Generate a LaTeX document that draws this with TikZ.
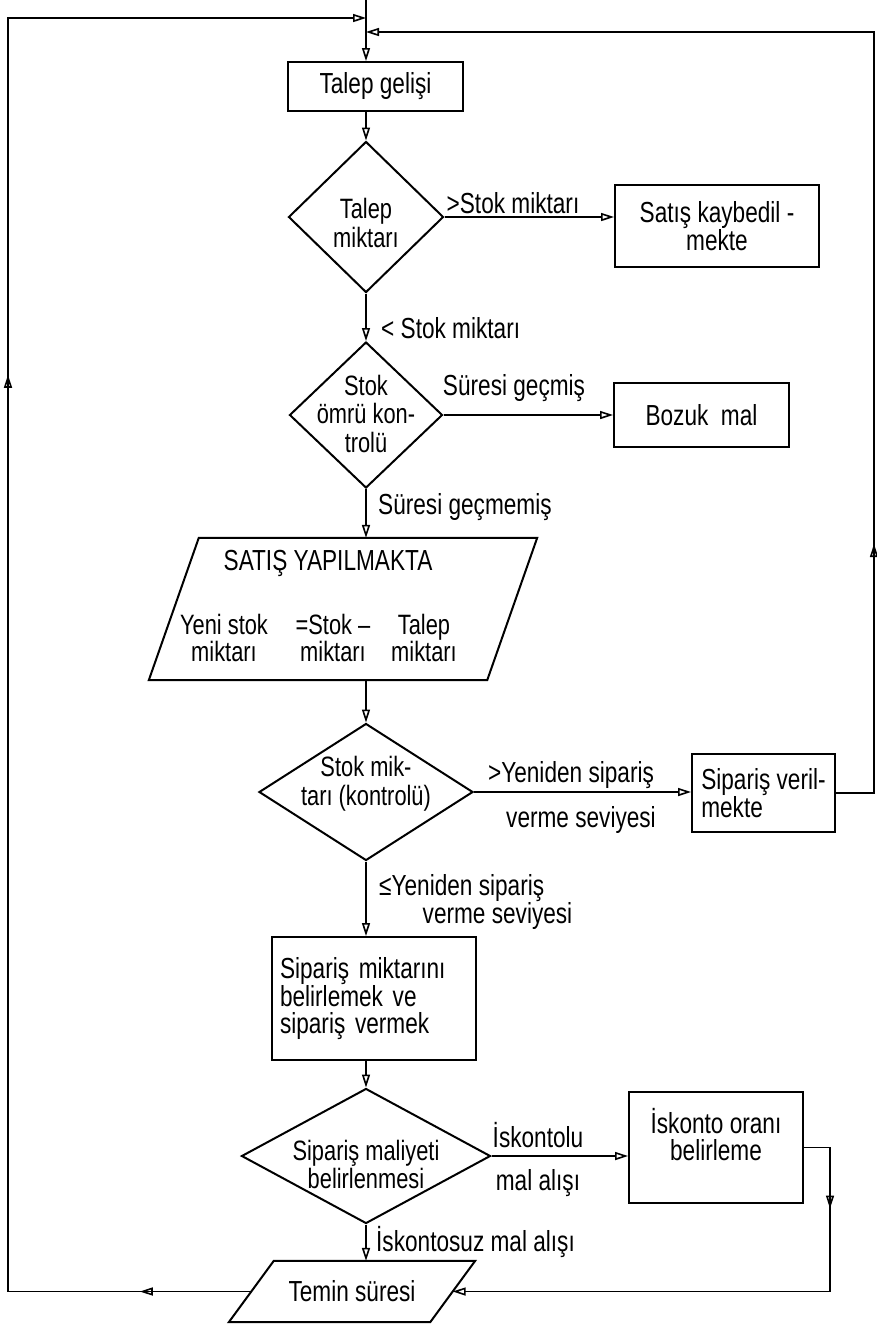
\documentclass[tikz,border=0pt]{standalone}
\usepackage{fontspec}
\setmainfont{Liberation Sans}[FakeStretch=0.78]
\usetikzlibrary{shapes.geometric,arrows.meta,decorations.markings,calc}
\newcommand{\dtext}[2]{\makebox[0pt]{\raisebox{#2}[0pt][0pt]{\begin{tabular}{@{}c@{}}#1\end{tabular}}}}
\tikzset{
  >={Triangle[open,length=13pt,width=8pt]},
  line/.style={line width=1.6pt},
  arr/.style={line,->},
  box/.style={draw, line width=2pt, rectangle, inner sep=0pt, font=\fontsize{29}{25}\selectfont},
  dec/.style={draw, line width=2pt, diamond, inner sep=0pt},
  para/.style={rectangle, inner sep=0pt, font=\fontsize{29}{25}\selectfont},
  shapeline/.style={draw, line width=2pt, line join=miter},
  lbl/.style={inner sep=0pt, font=\fontsize{29}{27}\selectfont},
  frm/.style={inner sep=0pt, anchor=base, align=center, font=\fontsize{28}{27}\selectfont},
  onemark/.style={postaction={decorate}, decoration={markings, mark=at position #1 with {\arrow{>}}}}
}
\begin{document}
\begin{tikzpicture}[x=1pt,y=-1pt]
\useasboundingbox (0,0) rectangle (877,1326);

% junctions and guide coordinates
\coordinate (top) at (366,0);
\coordinate (jl) at (366,18);
\coordinate (jr) at (366,32);
\coordinate (lx) at (8,0);
\coordinate (rx) at (874,0);
\coordinate (ix) at (830,0);

% nodes
\node[box, minimum width=175pt, minimum height=49pt] (gelis) at (375.5,86.5) {Talep gelişi};

\node[dec, minimum width=155pt, minimum height=151pt] (d1) at (366,217)
  {\fontsize{28}{28}\selectfont\dtext{Talep\\miktarı}{-16pt}};
\node[box, minimum width=204pt, minimum height=82pt, align=center] (kayb) at (717,226)
  {Satış kaybedil -\\mekte};

\node[dec, minimum width=153pt, minimum height=146pt] (d2) at (366,415)
  {\fontsize{28}{27}\selectfont\dtext{Stok\\ömrü kon-\\trolü}{-9pt}};
\node[box, minimum width=175pt, minimum height=64pt] (bozuk) at (701.5,415) {Bozuk\ \ mal};

\node[para, minimum width=388pt, minimum height=142pt] (sat) at (343,609) {};
\draw[shapeline] ($(sat.north west)+(50,0)$) -- (sat.north east) -- ($(sat.south east)+(-50,0)$) -- (sat.south west) -- cycle;
\node[lbl] (sattitle) at (328,563) {SATIŞ YAPILMAKTA};
\node[frm] (f1) at (224,661) {Yeni stok\\miktarı};
\node[frm] (f2) at (333,661) {=Stok –\\miktarı};
\node[frm] (f3) at (424,661) {Talep\\miktarı};

\node[dec, minimum width=214pt, minimum height=137pt] (d3) at (366,792)
  {\fontsize{28}{26}\selectfont\dtext{Stok mik-\\tarı (kontrolü)}{1pt}};
\node[box, minimum width=143pt, minimum height=78pt, align=left, font=\fontsize{29}{24}\selectfont] (ver) at (763.5,793)
  {Sipariş veril-\\mekte};

\node[box, minimum width=204pt, minimum height=123pt, text width=188pt, align=left, font=\fontsize{29}{27}\selectfont] (sip) at (374,998.5)
  {Sipariş miktarını\\belirlemek ve\\sipariş vermek};

\node[dec, minimum width=249pt, minimum height=135pt] (d4) at (366,1156)
  {\fontsize{28}{23}\selectfont\dtext{Sipariş maliyeti\\belirlenmesi}{-18pt}};
\node[box, minimum width=174pt, minimum height=111pt, align=center, font=\fontsize{29}{27}\selectfont] (isk) at (716,1147.5)
  {İskonto oranı\\belirleme\\\mbox{}};

\node[para, minimum width=246pt, minimum height=61pt] (tem) at (352,1291.5) {Temin süresi};
\draw[shapeline] ($(tem.north west)+(45,0)$) -- (tem.north east) -- ($(tem.south east)+(-45,0)$) -- (tem.south west) -- cycle;
\coordinate (tl) at ($(tem.west)+(22.5,0)$);
\coordinate (tr) at ($(tem.east)+(-22.5,0)$);

% edge labels
\node[lbl] (l1) at (513,203) {>Stok miktarı};
\node[lbl, anchor=west] (l2) at (381,328) {< Stok miktarı};
\node[lbl] (l3) at (514,388) {Süresi geçmiş};
\node[lbl, anchor=west] (l4) at (378,507) {Süresi geçmemiş};
\node[lbl] (l5) at (571,775) {>Yeniden\ sipariş};
\node[lbl] (l6) at (581,820) {verme\ seviyesi};
\node[lbl, anchor=west, align=left] (l7) at (379,902) {≤Yeniden sipariş\\\hspace*{1.5em}verme seviyesi};
\node[lbl] (l8) at (538,1135) {İskontolu};
\node[lbl] (l9) at (538,1183) {mal alışı};
\node[lbl, anchor=west] (l10) at (376,1242) {İskontosuz mal alışı};

% main flow
\draw[arr] (top) -- (gelis.north -| top);
\draw[arr] (gelis.south -| top) -- (d1.north);
\draw[arr] (d1.east) -- (kayb.west |- d1.east);
\draw[arr] (d1.south) -- (d2.north);
\draw[arr] (d2.east) -- (bozuk.west);
\draw[arr] (d2.south) -- (d2.south |- sat.north);
\draw[arr] (sat.south -| top) -- (d3.north);
\draw[arr] (d3.east) -- (ver.west |- d3.east);
\draw[arr] (d3.south) -- (d3.south |- sip.north);
\draw[arr] (sip.south -| top) -- (d4.north);
\draw[arr] (d4.east) -- (isk.west |- d4.east);
\draw[arr] (d4.south) -- (d4.south |- tem.north);

% feedback loops
\draw[arr, onemark=287pt] (ver.east) -- (ver.east -| rx) -- (rx |- jr) -- (jr);
\draw[arr, onemark=87pt] (isk.east) -- (isk.east -| ix) -- (ix |- tr) -- (tr);
\draw[arr, postaction={decorate}, decoration={markings,
    mark=at position 111.5pt with {\arrow{>}},
    mark=at position 1160pt with {\arrow{>}}}]
  (tl) -- (tl -| lx) -- (lx |- jl) -- (jl);
\end{tikzpicture}
\end{document}
